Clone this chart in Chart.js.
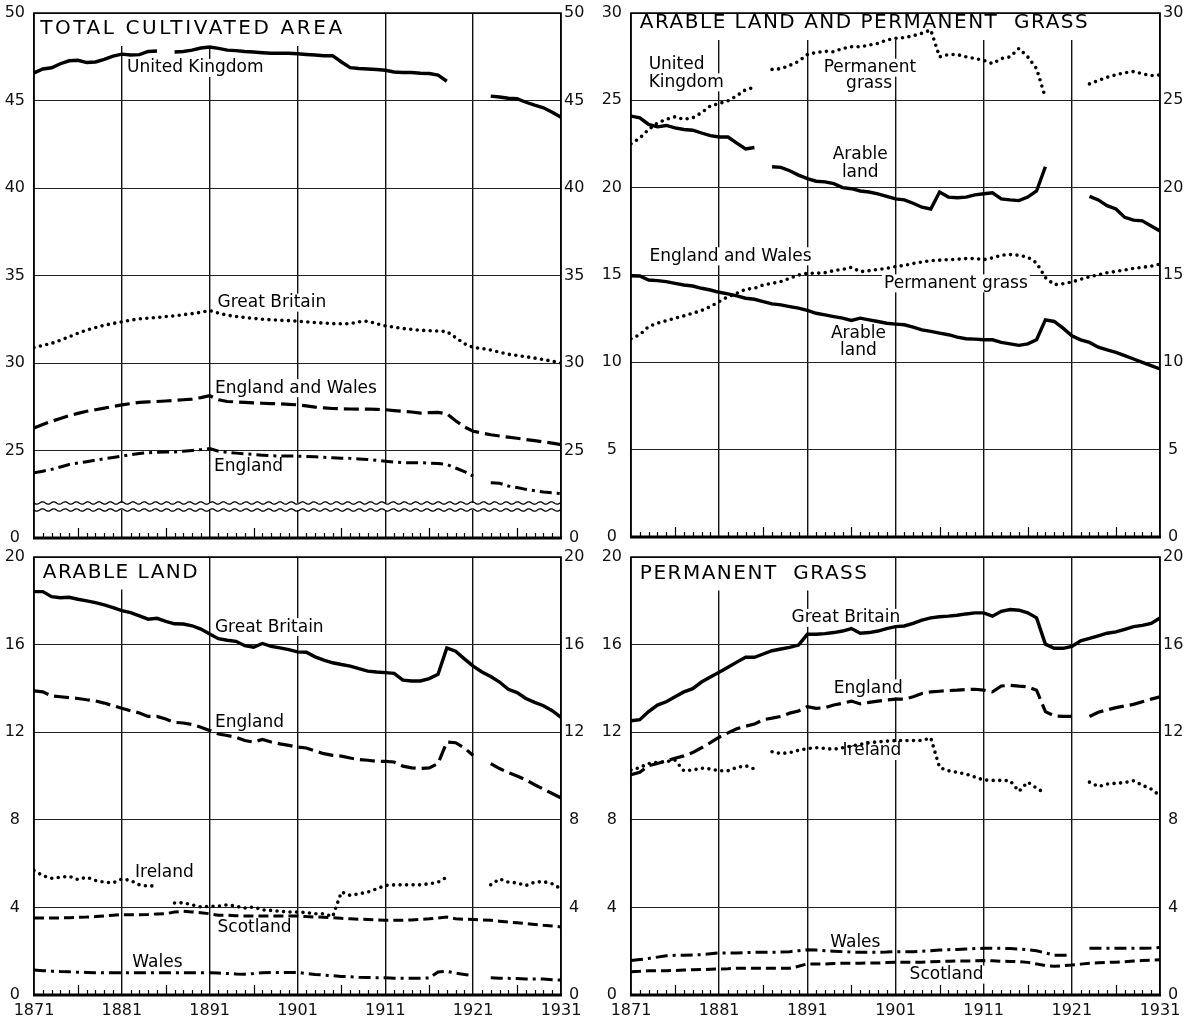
<!DOCTYPE html>
<html>
<head>
<meta charset="utf-8">
<script src="https://cdn.jsdelivr.net/npm/chart.js@4.4.1/dist/chart.umd.min.js"></script>
<style>
    html, body { margin: 0; padding: 0; background: #fff; }
    #page { position: relative; width: 1199px; height: 1022px; overflow: hidden; }
    canvas { position: absolute; }
</style>
</head>
<body>
<div id="page">
    <canvas id="chartTotal" width="600" height="548" style="left:0;top:0"></canvas>
    <canvas id="chartBoth" width="599" height="548" style="left:600px;top:0"></canvas>
    <canvas id="chartArable" width="600" height="474" style="left:0;top:548px"></canvas>
    <canvas id="chartGrass" width="599" height="474" style="left:600px;top:548px"></canvas>
</div>
<script>
// million acres, one value per year; null = no figure (line broken)
var years = [1871, 1872, 1873, 1874, 1875, 1876, 1877, 1878, 1879, 1880,
    1881, 1882, 1883, 1884, 1885, 1886, 1887, 1888, 1889, 1890,
    1891, 1892, 1893, 1894, 1895, 1896, 1897, 1898, 1899, 1900,
    1901, 1902, 1903, 1904, 1905, 1906, 1907, 1908, 1909, 1910,
    1911, 1912, 1913, 1914, 1915, 1916, 1917, 1918, 1919, 1920,
    1921, 1922, 1923, 1924, 1925, 1926, 1927, 1928, 1929, 1930,
    1931];
var decadeTicks = [1871, 1881, 1891, 1901, 1911, 1921, 1931];

// total cultivated area
var totalUK = [46.58, 46.8, 46.87, 47.1, 47.27, 47.3, 47.17, 47.2, 47.35, 47.54,
    47.65, 47.6, 47.62, 47.8, 47.83, null, 47.77, 47.8, 47.88, 48.0,
    48.06, 47.98, 47.88, 47.85, 47.8, 47.77, 47.73, 47.7, 47.7, 47.7,
    47.67, 47.63, 47.6, 47.56, 47.56, 47.2, 46.88, 46.83, 46.8, 46.77,
    46.73, 46.63, 46.6, 46.6, 46.56, 46.54, 46.45, 46.1, null, null,
    null, null, 45.25, 45.2, 45.13, 45.1, 44.9, 44.73, 44.58, 44.33,
    44.04];
var totalGB = [30.89, 31.0, 31.12, 31.3, 31.5, 31.7, 31.88, 32.02, 32.16, 32.26,
    32.35, 32.45, 32.52, 32.56, 32.6, 32.65, 32.7, 32.76, 32.82, 32.9,
    33.0, 32.85, 32.73, 32.66, 32.6, 32.55, 32.5, 32.47, 32.44, 32.42,
    32.39, 32.35, 32.31, 32.28, 32.25, 32.24, 32.25, 32.35, 32.39, 32.25,
    32.12, 32.05, 31.97, 31.92, 31.87, 31.85, 31.82, 31.8, 31.45, 31.1,
    30.89, 30.83, 30.74, 30.62, 30.5, 30.43, 30.36, 30.28, 30.2, 30.1,
    30.0];
var totalEW = [26.29, 26.48, 26.67, 26.83, 26.99, 27.12, 27.24, 27.33, 27.42, 27.52,
    27.61, 27.68, 27.75, 27.78, 27.8, 27.83, 27.86, 27.9, 27.94, 28.02,
    28.13, 27.9, 27.8, 27.78, 27.75, 27.72, 27.7, 27.68, 27.67, 27.64,
    27.61, 27.55, 27.48, 27.44, 27.4, 27.38, 27.37, 27.37, 27.37, 27.35,
    27.33, 27.28, 27.24, 27.2, 27.14, 27.16, 27.18, 27.1, 26.7, 26.35,
    26.1, 26.0, 25.9, 25.83, 25.76, 25.7, 25.63, 25.56, 25.49, 25.42,
    25.34];
var totalEng = [23.73, 23.82, 23.92, 24.06, 24.2, 24.28, 24.36, 24.45, 24.53, 24.6,
    24.68, 24.76, 24.83, 24.87, 24.9, 24.91, 24.92, 24.96, 25.0, 25.05,
    25.11, 24.96, 24.9, 24.85, 24.81, 24.77, 24.73, 24.7, 24.68, 24.68,
    24.68, 24.66, 24.64, 24.61, 24.58, 24.56, 24.55, 24.52, 24.49, 24.44,
    24.39, 24.34, 24.3, 24.3, 24.3, 24.28, 24.26, 24.2, 24.0, 23.8,
    23.54, null, 23.16, 23.13, 22.97, 22.88, 22.78, 22.7, 22.63, 22.58,
    22.54];

// arable land and permanent grass
var ukGrass = [22.51, 22.84, 23.33, 23.71, 23.91, 24.06, 23.91, 24.0, 24.29, 24.68,
    24.82, 24.97, 25.26, 25.61, 25.74, null, 26.77, 26.81, 27.0, 27.23,
    27.62, 27.74, 27.81, 27.78, 27.97, 28.07, 28.07, 28.16, 28.26, 28.45,
    28.55, 28.59, 28.7, 28.84, 29.03, 27.49, 27.62, 27.62, 27.49, 27.39,
    27.29, 27.1, 27.39, 27.49, 27.97, 27.49, 26.81, 25.16, null, null,
    null, null, 25.94, 26.13, 26.32, 26.46, 26.58, 26.65, 26.52, 26.42,
    26.46];
var ukArable = [24.1, 24.0, 23.62, 23.48, 23.56, 23.42, 23.33, 23.29, 23.13, 22.98,
    22.9, 22.9, 22.55, 22.22, 22.3, null, 21.2, 21.16, 20.97, 20.72,
    20.52, 20.37, 20.33, 20.23, 20.0, 19.94, 19.81, 19.75, 19.65, 19.5,
    19.36, 19.3, 19.11, 18.88, 18.78, 19.75, 19.46, 19.42, 19.46, 19.59,
    19.65, 19.71, 19.36, 19.3, 19.26, 19.46, 19.81, 21.2, null, null,
    null, null, 19.5, 19.3, 18.97, 18.78, 18.3, 18.14, 18.1, 17.81,
    17.52];
var ewGrass = [11.35, 11.58, 12.05, 12.24, 12.38, 12.53, 12.66, 12.81, 12.97, 13.19,
    13.48, 13.76, 13.95, 14.18, 14.24, 14.43, 14.52, 14.62, 14.81, 15.0,
    15.1, 15.1, 15.13, 15.25, 15.32, 15.44, 15.19, 15.25, 15.32, 15.38,
    15.48, 15.55, 15.66, 15.75, 15.82, 15.85, 15.88, 15.9, 15.94, 15.94,
    15.88, 15.98, 16.13, 16.17, 16.13, 16.02, 15.69, 14.85, 14.45, 14.5,
    14.6, 14.75, 14.9, 15.0, 15.13, 15.2, 15.29, 15.38, 15.44, 15.51,
    15.63];
var ewArable = [14.96, 14.94, 14.71, 14.68, 14.62, 14.52, 14.43, 14.37, 14.24, 14.14,
    14.01, 13.92, 13.8, 13.67, 13.61, 13.48, 13.35, 13.29, 13.19, 13.1,
    12.97, 12.81, 12.72, 12.62, 12.53, 12.4, 12.53, 12.43, 12.34, 12.24,
    12.19, 12.15, 12.02, 11.86, 11.77, 11.67, 11.58, 11.44, 11.35, 11.33,
    11.29, 11.29, 11.14, 11.06, 10.97, 11.06, 11.29, 12.43, 12.34, 11.96,
    11.52, 11.29, 11.14, 10.87, 10.72, 10.57, 10.38, 10.19, 10.0, 9.81,
    9.62];

// arable land
var arableGB = [18.42, 18.42, 18.19, 18.14, 18.16, 18.07, 18.0, 17.92, 17.81, 17.69,
    17.55, 17.46, 17.31, 17.16, 17.2, 17.06, 16.95, 16.94, 16.86, 16.71,
    16.48, 16.27, 16.2, 16.15, 15.95, 15.88, 16.05, 15.92, 15.85, 15.77,
    15.67, 15.65, 15.44, 15.29, 15.17, 15.09, 15.02, 14.9, 14.79, 14.75,
    14.72, 14.69, 14.38, 14.34, 14.34, 14.45, 14.64, 15.85, 15.7, 15.35,
    15.02, 14.75, 14.54, 14.29, 13.96, 13.81, 13.54, 13.36, 13.21, 12.98,
    12.68];
var arableEng = [13.89, 13.84, 13.66, 13.62, 13.58, 13.54, 13.48, 13.43, 13.33, 13.21,
    13.09, 12.98, 12.88, 12.72, 12.72, 12.6, 12.45, 12.42, 12.35, 12.23,
    12.08, 11.92, 11.85, 11.77, 11.62, 11.55, 11.67, 11.55, 11.47, 11.4,
    11.32, 11.28, 11.14, 11.02, 10.94, 10.91, 10.82, 10.75, 10.72, 10.67,
    10.67, 10.64, 10.45, 10.37, 10.34, 10.37, 10.57, 11.55, 11.52, 11.28,
    10.94, null, 10.57, 10.34, 10.15, 10.0, 9.82, 9.6, 9.4, 9.2,
    9.0];
var arableIre = [5.68, 5.45, 5.33, 5.38, 5.42, 5.27, 5.38, 5.23, 5.15, 5.12,
    5.3, 5.23, 5.03, 4.97, 5.0, null, 4.2, 4.21, 4.12, 4.02,
    4.05, 4.06, 4.12, 4.05, 3.97, 4.02, 3.89, 3.86, 3.82, 3.79,
    3.79, 3.76, 3.71, 3.71, 3.58, 4.7, 4.55, 4.62, 4.7, 4.85,
    5.0, 5.03, 5.03, 5.03, 5.03, 5.08, 5.15, 5.38, null, null,
    null, null, 5.03, 5.3, 5.15, 5.12, 5.0, 5.15, 5.18, 5.08,
    4.85];
var arableSco = [3.52, 3.52, 3.52, 3.52, 3.53, 3.55, 3.56, 3.58, 3.61, 3.64,
    3.67, 3.67, 3.67, 3.68, 3.7, 3.71, 3.79, 3.82, 3.79, 3.76,
    3.71, 3.64, 3.64, 3.62, 3.61, 3.61, 3.61, 3.61, 3.61, 3.61,
    3.61, 3.58, 3.56, 3.55, 3.53, 3.5, 3.48, 3.46, 3.45, 3.43,
    3.41, 3.41, 3.41, 3.43, 3.45, 3.48, 3.52, 3.56, 3.48, 3.46,
    3.45, 3.43, 3.41, 3.37, 3.33, 3.3, 3.26, 3.22, 3.18, 3.15,
    3.11];
var arableWal = [1.14, 1.11, 1.09, 1.07, 1.06, 1.04, 1.03, 1.02, 1.02, 1.02,
    1.02, 1.02, 1.02, 1.02, 1.02, 1.02, 1.02, 1.02, 1.02, 1.02,
    1.02, 1.0, 0.98, 0.96, 0.95, 0.98, 1.02, 1.03, 1.03, 1.03,
    1.03, 0.98, 0.94, 0.91, 0.88, 0.85, 0.83, 0.81, 0.8, 0.79,
    0.79, 0.77, 0.76, 0.76, 0.76, 0.78, 1.05, 1.08, 1.0, 0.94,
    0.88, null, 0.79, 0.77, 0.76, 0.75, 0.73, 0.73, 0.73, 0.7,
    0.68];

// permanent grass
var grassGB = [12.52, 12.57, 12.94, 13.24, 13.39, 13.62, 13.84, 13.99, 14.29, 14.52,
    14.74, 14.97, 15.2, 15.42, 15.42, 15.57, 15.72, 15.8, 15.87, 15.98,
    16.47, 16.47, 16.5, 16.55, 16.62, 16.73, 16.52, 16.55, 16.62, 16.73,
    16.82, 16.85, 16.97, 17.12, 17.22, 17.27, 17.3, 17.34, 17.4, 17.45,
    17.45, 17.3, 17.52, 17.6, 17.57, 17.45, 17.22, 16.02, 15.83, 15.83,
    15.92, 16.17, 16.28, 16.4, 16.52, 16.58, 16.7, 16.82, 16.88, 16.97,
    17.22];
var grassEng = [10.06, 10.17, 10.47, 10.57, 10.69, 10.81, 10.92, 11.07, 11.29, 11.52,
    11.77, 11.97, 12.16, 12.27, 12.37, 12.57, 12.64, 12.72, 12.87, 12.97,
    13.17, 13.09, 13.12, 13.24, 13.32, 13.42, 13.29, 13.36, 13.42, 13.47,
    13.51, 13.51, 13.62, 13.77, 13.84, 13.87, 13.9, 13.92, 13.95, 13.96,
    13.92, 13.84, 14.11, 14.14, 14.1, 14.07, 13.92, 12.94, 12.75, 12.72,
    12.72, null, 12.72, 12.91, 13.02, 13.12, 13.2, 13.27, 13.39, 13.51,
    13.62];
var grassIre = [10.27, 10.39, 10.57, 10.62, 10.66, 10.72, 10.24, 10.27, 10.36, 10.32,
    10.24, 10.24, 10.39, 10.47, 10.32, null, 11.11, 11.02, 11.07, 11.17,
    11.26, 11.29, 11.26, 11.22, 11.29, 11.37, 11.44, 11.52, 11.56, 11.59,
    11.62, 11.62, 11.62, 11.62, 11.74, 10.39, 10.24, 10.17, 10.09, 9.95,
    9.82, 9.8, 9.8, 9.78, 9.3, 9.72, 9.45, 9.2, null, null,
    null, null, 9.72, 9.52, 9.63, 9.67, 9.7, 9.78, 9.58, 9.4,
    9.1];
var grassWal = [1.57, 1.62, 1.67, 1.73, 1.79, 1.81, 1.82, 1.83, 1.84, 1.88,
    1.92, 1.92, 1.92, 1.94, 1.95, 1.95, 1.95, 1.96, 1.98, 2.02,
    2.07, 2.05, 2.02, 2.0, 1.98, 1.96, 1.95, 1.95, 1.95, 1.96,
    1.98, 1.98, 1.98, 2.0, 2.02, 2.05, 2.07, 2.08, 2.1, 2.12,
    2.13, 2.13, 2.13, 2.12, 2.1, 2.07, 2.02, 1.92, 1.82, 1.82,
    1.82, null, 2.13, 2.13, 2.13, 2.13, 2.13, 2.14, 2.14, 2.15,
    2.17];
var grassSco = [1.06, 1.08, 1.11, 1.11, 1.11, 1.12, 1.14, 1.15, 1.16, 1.18,
    1.19, 1.2, 1.22, 1.22, 1.22, 1.22, 1.22, 1.22, 1.22, 1.31,
    1.42, 1.42, 1.42, 1.44, 1.45, 1.45, 1.45, 1.46, 1.46, 1.48,
    1.49, 1.49, 1.49, 1.5, 1.52, 1.53, 1.54, 1.55, 1.55, 1.56,
    1.57, 1.56, 1.54, 1.53, 1.52, 1.49, 1.42, 1.34, 1.31, 1.34,
    1.37, 1.41, 1.45, 1.47, 1.49, 1.5, 1.52, 1.55, 1.57, 1.59,
    1.61];

var totalTicks = [20, 25, 30, 35, 40, 45, 50];   // 20 sits on the broken base, printed as 0
var bothTicks = [0, 5, 10, 15, 20, 25, 30];
var lowTicks = [0, 4, 8, 12, 16, 20];

var TICK_FONT = { family: "'DejaVu Sans', sans-serif", size: 16 };
var LABEL_FONT = "17px 'DejaVu Sans', sans-serif";
var TITLE_FONT = "20px 'DejaVu Sans', sans-serif";

var lineStyles = {
    solid: { borderWidth: 3.4 },
    dotted: { borderWidth: 3.6, borderDash: [0, 6.5], borderCapStyle: 'round' },
    dashed: { borderWidth: 3.2, borderDash: [15, 6] },
    shortdash: { borderWidth: 3, borderDash: [10, 5] },
    dashdot: { borderWidth: 3, borderDash: [12, 5, 3, 5] }
};

function series(values, style) {
    var pts = years.map(function (yr, i) { return { x: yr, y: values[i] }; });
    return Object.assign({
        data: pts,
        borderColor: '#000',
        pointRadius: 0,
        tension: 0,
        spanGaps: false,
        fill: false
    }, lineStyles[style]);
}

// frame, minor year ticks, axis break, title and label boxes
var decor = {
    id: 'decor',
    beforeDatasetsDraw: function (chart, args, o) {
        var ctx = chart.ctx, a = chart.chartArea;
        var sx = chart.scales.x, sy = chart.scales.y;
        ctx.save();
        ctx.fillStyle = '#fff';

        ctx.font = TITLE_FONT;
        ctx.letterSpacing = o.titleSpacing + 'px';
        var tx = sx.getPixelForValue(o.titleYear);
        var tw = ctx.measureText(o.title).width;
        ctx.fillRect(a.left + 1, a.top + 1, tx - a.left + tw + 6, o.titleDy + 16);

        ctx.font = LABEL_FONT;
        ctx.letterSpacing = '0px';
        o.labels.forEach(function (l) {
            var w = ctx.measureText(l.text).width;
            var px = sx.getPixelForValue(l.year), py = sy.getPixelForValue(l.value);
            var left = l.center ? px - w / 2 : px;
            ctx.fillRect(left - 2, py - 9, w + 4, 18);
        });

        ctx.strokeStyle = '#000';
        if (o.breakAt) {
            var b1 = sy.getPixelForValue(o.breakAt[0]), b2 = sy.getPixelForValue(o.breakAt[1]);
            ctx.fillRect(a.left + 1, b1, a.width - 2, b2 - b1);
            ctx.lineWidth = 1.3;
            [b1, b2].forEach(function (yy) {
                ctx.beginPath();
                for (var px = a.left; px <= a.right; px += 1) {
                    var yv = yy + 1.2 * Math.sin((px - a.left) / 1.8);
                    if (px === a.left) ctx.moveTo(px, yv); else ctx.lineTo(px, yv);
                }
                ctx.stroke();
            });
        }

        ctx.lineWidth = 1.6;
        ctx.beginPath();
        ctx.moveTo(a.left, a.bottom);
        ctx.lineTo(a.left, a.top);
        ctx.lineTo(a.right, a.top);
        ctx.lineTo(a.right, a.bottom);
        ctx.stroke();
        ctx.lineWidth = 3;
        ctx.beginPath();
        ctx.moveTo(a.left - 1, a.bottom);
        ctx.lineTo(a.right + 1, a.bottom);
        ctx.stroke();

        ctx.lineWidth = 1.2;
        ctx.beginPath();
        for (var yr = 1872; yr < 1931; yr++) {
            if ((yr - 1871) % 10 === 0) continue;
            var h = (yr - 1871) % 5 === 0 ? 10 : 5;
            var xx = Math.round(sx.getPixelForValue(yr)) + 0.5;
            ctx.moveTo(xx, a.bottom);
            ctx.lineTo(xx, a.bottom - h);
        }
        ctx.stroke();
        ctx.restore();
    },
    afterDatasetsDraw: function (chart, args, o) {
        var ctx = chart.ctx, a = chart.chartArea;
        var sx = chart.scales.x, sy = chart.scales.y;
        ctx.save();
        ctx.fillStyle = '#000';
        ctx.textBaseline = 'middle';
        ctx.font = TITLE_FONT;
        ctx.letterSpacing = o.titleSpacing + 'px';
        ctx.textAlign = 'left';
        ctx.fillText(o.title, sx.getPixelForValue(o.titleYear), a.top + o.titleDy);
        ctx.font = LABEL_FONT;
        ctx.letterSpacing = '0px';
        o.labels.forEach(function (l) {
            ctx.textAlign = l.center ? 'center' : 'left';
            ctx.fillText(l.text, sx.getPixelForValue(l.year), sy.getPixelForValue(l.value));
        });
        ctx.restore();
    }
};

// keep tick labels from pushing the plot area inwards
function noPadding(s) {
    s.paddingTop = 0;
    s.paddingBottom = 0;
    s.paddingLeft = 0;
    s.paddingRight = 0;
}

function makePanel(id, cfg) {
    var yAxis = function (pos, width, pad) {
        return {
            position: pos,
            min: cfg.ticks[0],
            max: cfg.ticks[cfg.ticks.length - 1],
            afterBuildTicks: function (s) { s.ticks = cfg.ticks.map(function (v) { return { value: v }; }); },
            afterFit: function (s) { s.width = width; noPadding(s); },
            grid: { display: pos === 'left', color: '#222', lineWidth: 1, drawTicks: false },
            border: { display: false },
            ticks: {
                font: TICK_FONT, color: '#111', padding: pad, crossAlign: 'center',
                callback: function (v) { return cfg.tickLabel ? cfg.tickLabel(v) : String(v); }
            }
        };
    };
    return new Chart(document.getElementById(id), {
        type: 'line',
        data: { datasets: cfg.datasets },
        options: {
            responsive: false,
            animation: false,
            devicePixelRatio: 1,
            events: [],
            layout: { padding: { top: cfg.padTop, left: 0, right: 0, bottom: 0 } },
            plugins: {
                legend: { display: false },
                tooltip: { enabled: false },
                decor: cfg.decor
            },
            scales: {
                x: {
                    type: 'linear', min: 1871, max: 1931,
                    afterBuildTicks: function (s) { s.ticks = decadeTicks.map(function (v) { return { value: v }; }); },
                    afterFit: function (s) { s.height = cfg.xHeight; noPadding(s); },
                    grid: { color: '#111', lineWidth: 1.4, drawTicks: false },
                    border: { display: false },
                    ticks: {
                        display: cfg.showYears, font: TICK_FONT, color: '#111', padding: 6,
                        maxRotation: 0, autoSkip: false,
                        callback: function (v) { return String(v); }
                    }
                },
                y: yAxis('left', cfg.leftWidth, 9),
                y2: yAxis('right', 39, 3)
            }
        },
        plugins: [decor]
    });
}

makePanel('chartTotal', {
    ticks: totalTicks,
    tickLabel: function (v) { return v === 20 ? '0' : String(v); },
    padTop: 13, xHeight: 10, leftWidth: 34, showYears: false,
    datasets: [series(totalUK, 'solid'), series(totalGB, 'dotted'),
        series(totalEW, 'dashed'), series(totalEng, 'dashdot')],
    decor: {
        title: 'TOTAL CULTIVATED AREA', titleYear: 1871.7, titleDy: 16, titleSpacing: 2.6,
        breakAt: [22.0, 21.6],
        labels: [
            { text: 'United Kingdom', year: 1881.6, value: 46.86 },
            { text: 'Great Britain', year: 1891.9, value: 33.45 },
            { text: 'England and Wales', year: 1891.6, value: 28.56 },
            { text: 'England', year: 1891.5, value: 24.1 }
        ]
    }
});

makePanel('chartBoth', {
    ticks: bothTicks,
    padTop: 13, xHeight: 11, leftWidth: 31, showYears: false,
    datasets: [series(ukGrass, 'dotted'), series(ukArable, 'solid'),
        series(ewGrass, 'dotted'), series(ewArable, 'solid')],
    decor: {
        title: 'ARABLE LAND AND PERMANENT  GRASS', titleYear: 1872.0, titleDy: 10, titleSpacing: 1.5,
        labels: [
            { text: 'United', year: 1873, value: 27.06 },
            { text: 'Kingdom', year: 1873, value: 26.03 },
            { text: 'Permanent', year: 1898.1, value: 26.87, center: true },
            { text: 'grass', year: 1898.0, value: 25.94, center: true },
            { text: 'Arable', year: 1897.0, value: 21.88, center: true },
            { text: 'land', year: 1897.0, value: 20.87, center: true },
            { text: 'England and Wales', year: 1873.1, value: 16.07 },
            { text: 'Permanent grass', year: 1899.7, value: 14.52 },
            { text: 'Arable', year: 1896.8, value: 11.67, center: true },
            { text: 'land', year: 1896.8, value: 10.68, center: true }
        ]
    }
});

makePanel('chartArable', {
    ticks: lowTicks,
    padTop: 9, xHeight: 27, leftWidth: 34, showYears: true,
    datasets: [series(arableGB, 'solid'), series(arableEng, 'dashed'),
        series(arableIre, 'dotted'), series(arableSco, 'shortdash'), series(arableWal, 'dashdot')],
    decor: {
        title: 'ARABLE LAND', titleYear: 1872.0, titleDy: 15.5, titleSpacing: 1.5,
        labels: [
            { text: 'Great Britain', year: 1891.6, value: 16.8 },
            { text: 'England', year: 1891.6, value: 12.42 },
            { text: 'Ireland', year: 1882.5, value: 5.6 },
            { text: 'Scotland', year: 1891.9, value: 3.1 },
            { text: 'Wales', year: 1882.2, value: 1.48 }
        ]
    }
});

makePanel('chartGrass', {
    ticks: lowTicks,
    padTop: 9, xHeight: 27, leftWidth: 31, showYears: true,
    datasets: [series(grassGB, 'solid'), series(grassEng, 'dashed'),
        series(grassIre, 'dotted'), series(grassWal, 'dashdot'), series(grassSco, 'shortdash')],
    decor: {
        title: 'PERMANENT  GRASS', titleYear: 1872.0, titleDy: 16.5, titleSpacing: 1.5,
        labels: [
            { text: 'Great Britain', year: 1889.2, value: 17.22 },
            { text: 'England', year: 1894.0, value: 14.0 },
            { text: 'Ireland', year: 1895.0, value: 11.14 },
            { text: 'Wales', year: 1893.6, value: 2.4 },
            { text: 'Scotland', year: 1902.6, value: 0.93 }
        ]
    }
});
</script>
</body>
</html>
